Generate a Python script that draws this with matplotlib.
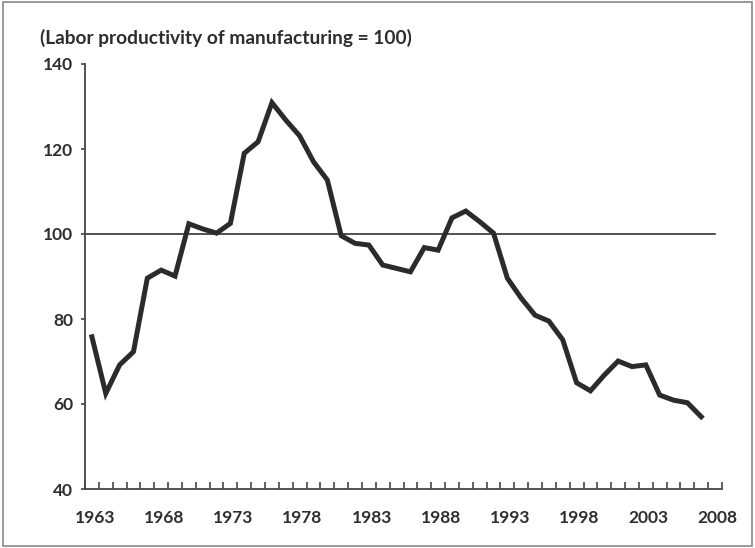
import numpy as np
import matplotlib
matplotlib.use('Agg')
from matplotlib import pyplot as plt
from matplotlib.patches import Rectangle

years = list(range(1963, 2008))
values = [75.8, 62.5, 69.2, 72.3, 89.6, 91.5, 90.1, 102.4, 101.2, 100.2,
          102.5, 119.0, 121.7, 130.9, 126.8, 123.1, 117.0, 112.7, 99.6, 97.8,
          97.4, 92.7, 91.9, 91.1, 96.8, 96.2, 103.8, 105.4, 102.9, 100.2,
          89.6, 84.9, 80.9, 79.5, 75.1, 65.0, 63.1, 66.8, 70.1, 68.8,
          69.2, 62.1, 60.9, 60.3, 57.0]
label_years = list(range(1963, 2009, 5))
y_ticks = [40, 60, 80, 100, 120, 140]
baseline = 100
title = '(Labor productivity of manufacturing = 100)'

plt.rcParams['font.family'] = ['Lato', 'DejaVu Sans']
txt = '#2e2e2e'

fig = plt.figure(figsize=(7.55, 5.48), dpi=100)
ax = fig.add_axes([85 / 755, 1 - 489 / 548, (722 - 85) / 755, (489 - 64) / 548])

n_cat = 2008 - 1963 + 1
x = np.arange(len(years))
ax.plot(x, values, color='#2b2b2b', lw=3.6, solid_joinstyle='miter', zorder=3)
ax.plot([-0.5, n_cat - 1], [baseline, baseline], color='#333333', lw=1.2, zorder=2)

ax.set_xlim(-0.5, n_cat - 0.5)
ax.set_ylim(40, 140)
ax.set_yticks(y_ticks)
ax.set_yticklabels([str(v) for v in y_ticks], fontsize=12.5, fontweight='bold', color=txt)
ax.set_xticks([y - 1963 + 0.2 for y in label_years])
ax.set_xticklabels([str(y) for y in label_years], fontsize=12.5, fontweight='bold', color=txt)
ax.set_xticks(np.arange(-0.5, n_cat, 1.0), minor=True)
ax.tick_params(axis='x', which='major', length=0, pad=15)
ax.tick_params(axis='x', which='minor', direction='in', length=5, width=1.2, color='#444444')
ax.tick_params(axis='y', direction='out', length=3, width=1.2, color='#444444', pad=5.5)

for s in ['top', 'right']:
    ax.spines[s].set_visible(False)
for s in ['left', 'bottom']:
    ax.spines[s].set_color('#444444')
    ax.spines[s].set_linewidth(1.3)

fig.text(40 / 755, 1 - 38 / 548, title, fontsize=13.8, fontweight='bold', color=txt,
         va='center', ha='left')

fig.patches.append(Rectangle((0.004, 0.004), 0.992, 0.992, transform=fig.transFigure,
                             fill=False, edgecolor='#888888', lw=1.2))

fig.savefig('out.png', dpi=100)
